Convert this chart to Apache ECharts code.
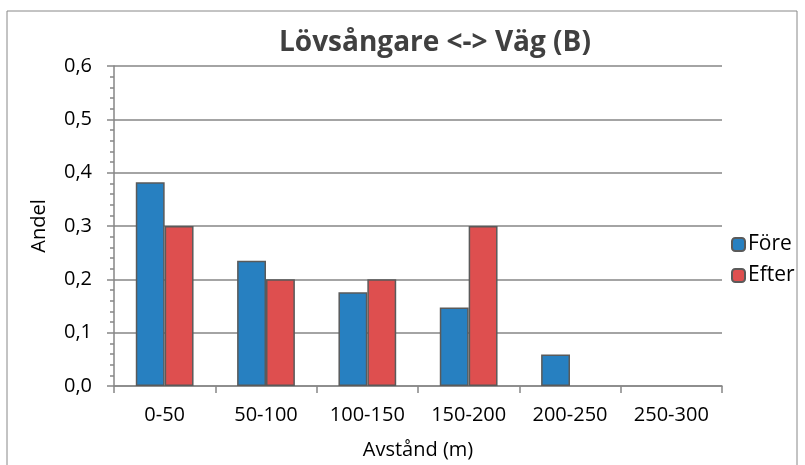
<!DOCTYPE html>
<html>
<head>
<meta charset="utf-8">
<script src="https://cdn.jsdelivr.net/npm/echarts@6/dist/echarts.min.js"></script>
<style>html,body{margin:0;padding:0;background:#fff}#c{width:805px;height:465px}</style>
</head>
<body>
<div id="c"></div>
<script>
const categories = ['0-50', '50-100', '100-150', '150-200', '200-250', '250-300'];
const fore = [0.382, 0.235, 0.176, 0.147, 0.059, 0];
const efter = [0.3, 0.2, 0.2, 0.3, 0, 0];
const seriesNames = ['Före', 'Efter'];
const title = 'Lövsångare <-> Väg (B)';
const xName = 'Avstånd (m)';
const yName = 'Andel';

const FONT = '"Open Sans", sans-serif';
const noZeroBorder = arr => arr.map(v => ({value: v, itemStyle: v === 0 ? {borderWidth: 0} : {}}));
const chart = echarts.init(document.getElementById('c'), null, {renderer: 'canvas'});
chart.setOption({
  animation: false,
  backgroundColor: '#fff',
  textStyle: {fontFamily: FONT},
  title: {
    text: title, left: 274, top: 24,
    textStyle: {fontFamily: FONT, fontSize: 28, fontWeight: 'bold', color: '#404040'}
  },
  graphic: [{
    type: 'rect', shape: {x: 7, y: 11, width: 790, height: 470},
    style: {fill: 'none', stroke: '#888', lineWidth: 1}, silent: true
  }],
  legend: {
    data: seriesNames, orient: 'vertical', left: 726, top: 229,
    itemWidth: 13, itemHeight: 13, itemGap: 10,
    textStyle: {fontFamily: FONT, fontSize: 21, color: '#000', padding: [0,0,0,-2]}
  },
  grid: {left: 114, right: 83, top: 66, bottom: 75, containLabel: false},
  xAxis: {
    type: 'category', data: categories,
    name: xName, nameLocation: 'middle', nameGap: 54,
    nameTextStyle: {fontFamily: FONT, fontSize: 20, color: '#000'},
    axisLine: {lineStyle: {color: '#868686', width: 1.5}},
    axisTick: {show: true, length: 7, lineStyle: {color: '#868686', width: 1.5}},
    axisLabel: {fontFamily: FONT, fontSize: 20, color: '#000', margin: 19}
  },
  yAxis: {
    type: 'value', min: 0, max: 0.6, interval: 0.1,
    name: yName, nameLocation: 'middle', nameGap: 65, nameRotate: 90,
    nameTextStyle: {fontFamily: FONT, fontSize: 20, color: '#000'},
    axisLine: {show: true, lineStyle: {color: '#868686', width: 1.5}},
    axisTick: {show: true, length: 7, lineStyle: {color: '#868686', width: 1.5}},
    minorTick: {show: true, splitNumber: 5, length: 4, lineStyle: {color: '#868686', width: 1.5}},
    splitLine: {lineStyle: {color: '#868686', width: 1.5}},
    axisLabel: {fontFamily: FONT, fontSize: 20, color: '#000', margin: 22,
      formatter: v => v.toFixed(1).replace('.', ',')}
  },
  series: [
    {name: seriesNames[0], type: 'bar', data: noZeroBorder(fore), barGap: '0%', barCategoryGap: '43%',
     itemStyle: {color: '#2780C1', borderColor: '#5a5a5a', borderWidth: 1.5}},
    {name: seriesNames[1], type: 'bar', data: noZeroBorder(efter), barGap: '0%', barCategoryGap: '43%',
     itemStyle: {color: '#DE4F4F', borderColor: '#5a5a5a', borderWidth: 1.5}}
  ]
});
</script>
</body>
</html>
